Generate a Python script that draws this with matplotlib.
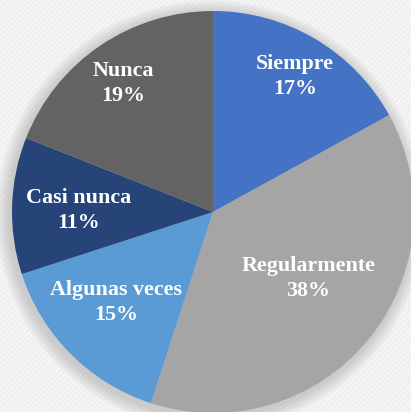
import numpy as np
import matplotlib.pyplot as plt
from matplotlib.patches import Circle, Rectangle

categories = ['Siempre', 'Regularmente', 'Algunas veces', 'Casi nunca', 'Nunca']
values = [17, 38, 15, 11, 19]
colors = ['#4472C4', '#A5A5A5', '#5B9BD5', '#264478', '#636363']
# label placement: fraction of the radius and turn (deg) from the slice middle
label_dist = [0.80, 0.57, 0.65, 0.67, 0.79]
label_turn = [0, 6, -3, 0, 0]

W, H = 411, 412
cx, cy, R = 213, H - 212, 201

fig = plt.figure(figsize=(W / 100, H / 100), dpi=100)
ax = fig.add_axes([0, 0, 1, 1])
fig.patch.set_facecolor('#efefef')

# faint diagonal texture on the background
ax.add_patch(Rectangle((0, 0), W, H, facecolor='#efefef', edgecolor='#f8f8f8',
                       hatch='//////', linewidth=0, zorder=0))

# soft shadow round the pie
for i in range(14):
    ax.add_patch(Circle((cx - 2, cy - 3), R + 14 - i, color='#9a9a9a',
                        alpha=0.035, linewidth=0, zorder=1))

wedges, _ = ax.pie(values, colors=colors, startangle=90, counterclock=False,
                   center=(cx, cy), radius=R, frame=True,
                   wedgeprops=dict(linewidth=0, zorder=2))
ax.set_xlim(0, W)
ax.set_ylim(0, H)
ax.set_aspect('equal')
ax.axis('off')

for w, name, v, d, t in zip(wedges, categories, values, label_dist, label_turn):
    ang = np.deg2rad((w.theta1 + w.theta2) / 2 + t)
    x = cx + d * R * np.cos(ang)
    y = cy + d * R * np.sin(ang) - 3
    ax.text(x, y, f'{name}\n{v}%', ha='center', va='center', color='white',
            fontsize=15.8, fontweight='bold', family='Liberation Serif',
            linespacing=1.35, zorder=5)

fig.savefig('out.png', dpi=100, facecolor=fig.get_facecolor())
